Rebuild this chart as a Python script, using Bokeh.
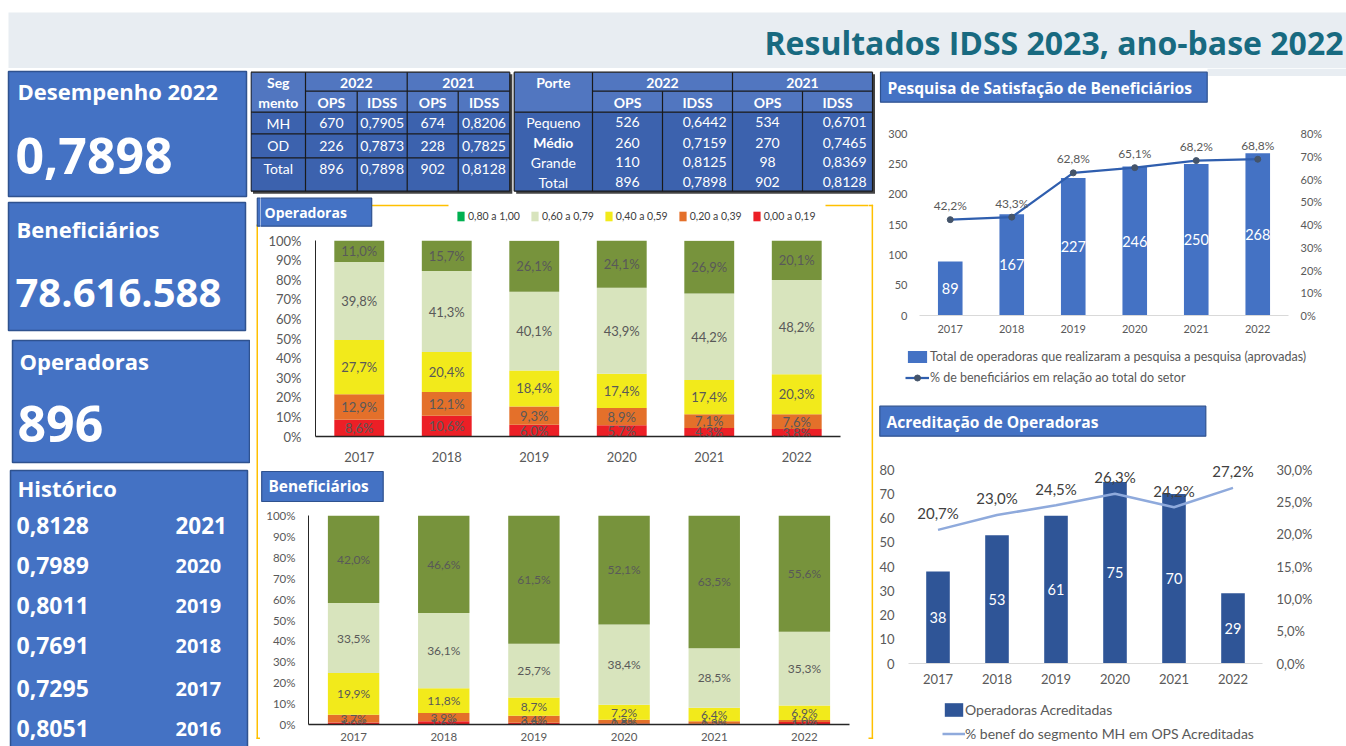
from bokeh.plotting import figure
from bokeh.layouts import column, row
from bokeh.models import (Range1d, FactorRange, LinearAxis, FixedTicker, PrintfTickFormatter,
                          ColumnDataSource, LabelSet, Legend, LegendItem)
from bokeh.core.properties import value
from bokeh.embed import file_html
from bokeh.resources import INLINE

# ---------------- data ----------------
titulo = "Resultados IDSS 2023, ano-base 2022"
years = ["2017", "2018", "2019", "2020", "2021", "2022"]

kpi_titles = ["Desempenho 2022", "Beneficiários", "Operadoras"]
desempenho = 0.7898
beneficiarios = 78616588
operadoras = 896
hist_years = [2021, 2020, 2019, 2018, 2017, 2016]
hist_idss = [0.8128, 0.7989, 0.8011, 0.7691, 0.7295, 0.8051]

seg_rows = ["MH", "OD", "Total"]
seg_ops_22 = [670, 226, 896]
seg_idss_22 = [0.7905, 0.7873, 0.7898]
seg_ops_21 = [674, 228, 902]
seg_idss_21 = [0.8206, 0.7825, 0.8128]

porte_rows = ["Pequeno", "Médio", "Grande", "Total"]
porte_ops_22 = [526, 260, 110, 896]
porte_idss_22 = [0.6442, 0.7159, 0.8125, 0.7898]
porte_ops_21 = [534, 270, 98, 902]
porte_idss_21 = [0.6701, 0.7465, 0.8369, 0.8128]

band_labels = ["0,80 a 1,00", "0,60 a 0,79", "0,40 a 0,59", "0,20 a 0,39", "0,00 a 0,19"]
# Operadoras: share of operators per IDSS band (%), bottom -> top
ops_b019 = [8.6, 10.6, 6.0, 5.7, 4.3, 3.8]
ops_b039 = [12.9, 12.1, 9.3, 8.9, 7.1, 7.6]
ops_b059 = [27.7, 20.4, 18.4, 17.4, 17.4, 20.3]
ops_b079 = [39.8, 41.3, 40.1, 43.9, 44.2, 48.2]
ops_b100 = [11.0, 15.7, 26.1, 24.1, 26.9, 20.1]
# Beneficiarios: share per IDSS band (%), bottom -> top
ben_b019 = [1.0, 1.6, 0.8, 0.5, 0.3, 1.2]
ben_b039 = [3.7, 3.9, 3.4, 1.8, 1.3, 1.0]
ben_b059 = [19.9, 11.8, 8.7, 7.2, 6.4, 6.9]
ben_b079 = [33.5, 36.1, 25.7, 38.4, 28.5, 35.3]
ben_b100 = [42.0, 46.6, 61.5, 52.1, 63.5, 55.6]

pesq_ops = [89, 167, 227, 246, 250, 268]
pesq_pct = [42.2, 43.3, 62.8, 65.1, 68.2, 68.8]
pesq_bar_label = "Total de operadoras que realizaram a pesquisa a pesquisa (aprovadas)"
pesq_line_label = "% de beneficiários em relação ao total do setor"

acr_ops = [38, 53, 61, 75, 70, 29]
acr_pct = [20.7, 23.0, 24.5, 26.3, 24.2, 27.2]
acr_bar_label = "Operadoras Acreditadas"
acr_line_label = "% benef do segmento MH em OPS Acreditadas"

# ---------------- styles ----------------
BAND = "#E8EDF2"
BLUE = "#4472C4"
BLUE_EDGE = "#2F528F"
DARK_BLUE = "#2F5597"
GOLD = "#FFC000"
TXT = "#595959"
C_RED, C_ORG, C_YEL, C_LGR, C_OLV, C_GRN = "#EC1F26", "#E4702A", "#F2EA1B", "#D8E4BD", "#77933C", "#00B050"
HDR_FILL = "#5176C0"
BODY_FILL = "#3C62AE"
LINE = "#1A1A1A"
OFF = -99999  # off-canvas position for legend-only proxy glyphs


def fmt_pct(v):
    return f"{v:.1f}".replace(".", ",") + "%"


def fmt_dec(v):
    return f"{v:.4f}".replace(".", ",")


def make_fig(w, h, xr, yr, bl=0, br=0, bt=0, bb=0, axes=True):
    kw = {} if axes else dict(x_axis_location=None, y_axis_location=None)
    p = figure(width=w, height=h, x_range=xr, y_range=yr, output_backend="svg",
               toolbar_location=None, min_border_left=bl, min_border_right=br,
               min_border_top=bt, min_border_bottom=bb, **kw)
    p.outline_line_color = None
    p.grid.visible = False
    p.background_fill_color = "white"
    p.border_fill_color = "white"
    try:
        p.frame_align = False
    except Exception:
        pass
    return p


def deco_fig(x0, y0, w, h):
    # page-pixel coordinate figure (y downwards), frame = whole canvas
    return make_fig(w, h, Range1d(x0, x0 + w), Range1d(y0 + h, y0), axes=False)


def txt(p, xs, ys, texts, size, color="white", font="Open Sans", bold=True, align="left"):
    p.text(x=xs, y=ys, text=texts, text_font=value(font), text_font_size=size,
           text_font_style="bold" if bold else "normal", text_color=color,
           text_align=align, text_baseline="middle")


def style_axis(ax, size, standoff, line_color=None, lw=1.0):
    ax.major_tick_line_color = None
    ax.minor_tick_line_color = None
    ax.major_tick_out = 0
    ax.major_tick_in = 0
    ax.major_label_text_font = "Lato"
    ax.major_label_text_font_size = size
    ax.major_label_text_color = TXT
    ax.major_label_standoff = standoff
    ax.axis_line_color = line_color
    ax.axis_line_width = lw


def proxy_area(p, color):
    return p.quad(left=[OFF], right=[OFF + 1], top=[OFF], bottom=[OFF + 1], fill_color=color, line_color=None)


GOLD_SEGS = [  # (left, right, top, bottom) in page px
    (371, 448, 204.3, 205.8), (825, 872.6, 204.3, 205.8),
    (256.0, 257.5, 224, 738.5), (871.1, 872.6, 204.3, 738.5),
    (256.0, 262, 737, 738.5), (866, 872.6, 737, 738.5)]


def gold(p):
    p.quad(left=[s[0] for s in GOLD_SEGS], right=[s[1] for s in GOLD_SEGS],
           top=[s[2] for s in GOLD_SEGS], bottom=[s[3] for s in GOLD_SEGS],
           fill_color=GOLD, line_color=None)


def header_box(p, l, r, t, b):
    p.quad(left=[l], right=[r], top=[t], bottom=[b], fill_color=BLUE, line_color=BLUE_EDGE, line_width=1.2)


# ---------------- title band ----------------
pt = deco_fig(0, 0, 1346, 68)
pt.quad(left=[8], right=[1346], top=[12], bottom=[68], fill_color=BAND, line_color=None)
txt(pt, [1343], [42], [titulo], "32px", color="#186A80", align="right")

# ---------------- left KPI column ----------------
pl = deco_fig(0, 68, 250, 678)
pl.quad(left=[8, 8, 12, 10], right=[246, 245, 249, 247], top=[71, 202, 340, 470],
        bottom=[196, 330, 462, 748], fill_color=BLUE, line_color=BLUE_EDGE, line_width=1.5)
txt(pl, [17, 16, 19], [90, 228, 360], kpi_titles, "22px")
txt(pl, [15], [155], [fmt_dec(desempenho)], "50px")
txt(pl, [15], [292], [f"{beneficiarios:,}".replace(",", ".")], "40px")
txt(pl, [17], [423], [str(operadoras)], "50px")
txt(pl, [17], [487], ["Histórico"], "22px")
hist_y = [525, 565, 605, 645, 688, 728]
txt(pl, [16] * 6, hist_y, [fmt_dec(v) for v in hist_idss], "23px")
txt(pl, [175], hist_y[:1], [str(hist_years[0])], "22.5px")
txt(pl, [175] * 5, hist_y[1:], [str(y) for y in hist_years[1:]], "20px")

# ---------------- tables ----------------
ptab = deco_fig(250, 68, 626, 128)


def table_frame(p, xs, ys, body_lines):
    p.quad(left=[xs[0] + 2], right=[xs[-1] + 2.5], top=[ys[0] + 2], bottom=[ys[-1] + 2.5],
           fill_color="#444444", line_color=None)
    p.quad(left=[xs[0]], right=[xs[-1]], top=[ys[0]], bottom=[ys[2]], fill_color=HDR_FILL, line_color=None)
    p.quad(left=[xs[0]], right=[xs[-1]], top=[ys[2]], bottom=[ys[-1]], fill_color=BODY_FILL, line_color=None)
    x0s, y0s, x1s, y1s = [], [], [], []
    for i in (0, 1, 3, 5):
        x0s.append(xs[i]); x1s.append(xs[i]); y0s.append(ys[0]); y1s.append(ys[-1])
    for i in (2, 4):
        x0s.append(xs[i]); x1s.append(xs[i]); y0s.append(ys[1]); y1s.append(ys[-1])
    x0s.append(xs[1]); x1s.append(xs[-1]); y0s.append(ys[1]); y1s.append(ys[1])
    hl = [0, 2, len(ys) - 1] + (list(range(3, len(ys) - 1)) if body_lines else [])
    for j in hl:
        x0s.append(xs[0]); x1s.append(xs[-1]); y0s.append(ys[j]); y1s.append(ys[j])
    p.segment(x0=x0s, y0=y0s, x1=x1s, y1=y1s, line_color=LINE, line_width=1.2)


t1x = [250.5, 305, 356.7, 406.7, 457.7, 509.3]
t1y = [71.7, 90.7, 111.7, 133.3, 157.3, 190.7]
table_frame(ptab, t1x, t1y, True)
c1 = [(t1x[i] + t1x[i + 1]) / 2 for i in range(5)]
txt(ptab, [c1[0], c1[0]], [82, 101.5], ["Seg", "mento"], "14px", font="Lato", align="center")
txt(ptab, [(t1x[1] + t1x[3]) / 2, (t1x[3] + t1x[5]) / 2], [82, 82], ["2022", "2021"], "14px", font="Lato", align="center")
txt(ptab, c1[1:], [101.5] * 4, ["OPS", "IDSS", "OPS", "IDSS"], "14px", font="Lato", align="center")
t1_rows_y = [122.5, 145, 168]
txt(ptab, [c1[0]] * 3, t1_rows_y, seg_rows, "14px", font="Lato", bold=False, align="center")
txt(ptab, [c1[1]] * 3, t1_rows_y, [str(v) for v in seg_ops_22], "14px", font="Lato", bold=False, align="center")
txt(ptab, [c1[2]] * 3, t1_rows_y, [fmt_dec(v) for v in seg_idss_22], "14px", font="Lato", bold=False, align="center")
txt(ptab, [c1[3]] * 3, t1_rows_y, [str(v) for v in seg_ops_21], "14px", font="Lato", bold=False, align="center")
txt(ptab, [c1[4]] * 3, t1_rows_y, [fmt_dec(v) for v in seg_idss_21], "14px", font="Lato", bold=False, align="center")

t2x = [513.7, 592, 662, 732, 802, 872]
t2y = [71.7, 90.7, 111.7, 132.7, 151.7, 171.7, 190.7]
table_frame(ptab, t2x, t2y, False)
c2 = [(t2x[i] + t2x[i + 1]) / 2 for i in range(5)]
txt(ptab, [c2[0]], [82], ["Porte"], "14px", font="Lato", align="center")
txt(ptab, [(t2x[1] + t2x[3]) / 2, (t2x[3] + t2x[5]) / 2], [82, 82], ["2022", "2021"], "14px", font="Lato", align="center")
txt(ptab, c2[1:], [101.5] * 4, ["OPS", "IDSS", "OPS", "IDSS"], "14px", font="Lato", align="center")
t2_rows_y = [121.7, 142.3, 161.7, 181.5]
for name, yy in zip(porte_rows, t2_rows_y):
    txt(ptab, [c2[0]], [yy], [name], "14px", font="Lato", bold=(name == "Médio"), align="center")
txt(ptab, [c2[1]] * 4, t2_rows_y, [str(v) for v in porte_ops_22], "14px", font="Lato", bold=False, align="center")
txt(ptab, [t2x[3] - 6] * 4, t2_rows_y, [fmt_dec(v) for v in porte_idss_22], "14px", font="Lato", bold=False, align="right")
txt(ptab, [c2[3]] * 4, t2_rows_y, [str(v) for v in porte_ops_21], "14px", font="Lato", bold=False, align="center")
txt(ptab, [t2x[5] - 6] * 4, t2_rows_y, [fmt_dec(v) for v in porte_idss_21], "14px", font="Lato", bold=False, align="right")

# ---------------- gold frame strips + headers of the middle charts ----------------
strip_l = deco_fig(250, 196, 10, 550)
gold(strip_l)
header_box(strip_l, 256.8, 371.2, 197.7, 225.7)
strip_r = deco_fig(868, 196, 8, 550)
gold(strip_r)

op_head = deco_fig(260, 196, 608, 36)
gold(op_head)
header_box(op_head, 256.8, 371.2, 197.7, 225.7)
txt(op_head, [264], [212], ["Operadoras"], "14px")
leg_colors = [C_GRN, C_LGR, C_YEL, C_ORG, C_RED]
proxies = [proxy_area(op_head, c) for c in leg_colors]
op_head.add_layout(Legend(items=[LegendItem(label=l, renderers=[r]) for l, r in zip(band_labels, proxies)],
                          orientation="horizontal", location=(196, 10), glyph_width=9, glyph_height=12,
                          label_height=12, label_width=10, label_standoff=3, spacing=10, padding=0, margin=0,
                          background_fill_alpha=0, border_line_color=None, label_text_font="Lato",
                          label_text_font_size="10.5px", label_text_color="#404040"))

ben_head = deco_fig(260, 470, 608, 36)
gold(ben_head)
header_box(ben_head, 261.2, 382.7, 471, 501)
txt(ben_head, [268], [486], ["Beneficiários"], "15.4px")


# ---------------- stacked charts ----------------
def stacked_chart(h, bl, br, bt, bb, series, label_size, tick_size, y_std, x_std):
    p = make_fig(608, h, FactorRange(factors=years), Range1d(0, 100), bl=bl, br=br, bt=bt, bb=bb)
    names = ["s019", "s039", "s059", "s079", "s100"]
    src = ColumnDataSource(dict(year=years, **{n: s for n, s in zip(names, series)}))
    p.vbar_stack(names, x="year", width=0.57, source=src,
                 fill_color=[C_RED, C_ORG, C_YEL, C_LGR, C_OLV], line_color=None)
    xs, ys, ts = [], [], []
    for i, yv in enumerate(years):
        cum = 0.0
        for s in series:
            xs.append(yv); ys.append(cum + s[i] / 2); ts.append(fmt_pct(s[i])); cum += s[i]
    lsrc = ColumnDataSource(dict(x=xs, y=ys, t=ts))
    p.add_layout(LabelSet(x="x", y="y", text="t", source=lsrc, text_font=value("Lato"),
                          text_font_size=label_size, text_color=TXT, text_align="center",
                          text_baseline="middle"))
    p.yaxis.ticker = FixedTicker(ticks=list(range(0, 101, 10)))
    p.yaxis.formatter = PrintfTickFormatter(format="%d%%")
    style_axis(p.yaxis, tick_size, y_std, "#262626", 1.0)
    style_axis(p.xaxis, tick_size, x_std, "#262626", 1.5)
    return p


op_chart = stacked_chart(238, 55, 28, 8, 34, [ops_b019, ops_b039, ops_b059, ops_b079, ops_b100],
                         "13px", "13px", 14, 15)
ben_chart = stacked_chart(240, 48, 19, 9, 22, [ben_b019, ben_b039, ben_b059, ben_b079, ben_b100],
                          "12px", "11.5px", 13, 8)


# ---------------- combo charts ----------------
def combo_chart(h, bl, br, bt, bb, ytop, yticks, rtop, rticks, bars, pcts, bar_color, tick_size,
                y_std, r_std, x_std):
    p = make_fig(470, h, FactorRange(factors=years), Range1d(0, ytop), bl=bl, br=br, bt=bt, bb=bb)
    p.extra_y_ranges = {"pct": Range1d(0, rtop)}
    p.yaxis.ticker = FixedTicker(ticks=yticks)
    style_axis(p.yaxis, tick_size, y_std, None)
    rax = LinearAxis(y_range_name="pct", ticker=FixedTicker(ticks=rticks))
    style_axis(rax, tick_size, r_std, None)
    p.add_layout(rax, "right")
    style_axis(p.xaxis, tick_size, x_std, "#D9D9D9", 1.0)
    src = ColumnDataSource(dict(year=years, v=bars, mid=[b / 2 for b in bars], pct=pcts,
                                vt=[str(b) for b in bars], pt=[fmt_pct(c) for c in pcts]))
    p.vbar(x="year", top="v", width=0.4, source=src, fill_color=bar_color, line_color=None)
    p.add_layout(LabelSet(x="year", y="mid", text="vt", source=src, text_font=value("Lato"),
                          text_font_size="14.5px", text_color="white", text_align="center",
                          text_baseline="middle"))
    return p, src, rax


# Pesquisa de satisfacao
pesq_head = deco_fig(876, 68, 470, 50)
pesq_head.quad(left=[1207], right=[1346], top=[68], bottom=[75.5], fill_color=BAND, line_color=None)
header_box(pesq_head, 880, 1206.7, 71.7, 101.7)
txt(pesq_head, [887], [87], ["Pesquisa de Satisfação de Beneficiários"], "15.6px")

pesq_top = 300 * (315 - 118) / (315 - 133.3)
pesq_chart, ps_src, ps_rax = combo_chart(222, 43, 58, 0, 25, pesq_top, list(range(0, 301, 50)),
                                         80 * pesq_top / 300, list(range(0, 81, 10)), pesq_ops, pesq_pct,
                                         BLUE, "11px", 12, 12, 9)
ps_rax.formatter = PrintfTickFormatter(format="%d%%")
PS_LINE, PS_MARK = "#2F5EAE", "#44546A"
pesq_chart.line(x="year", y="pct", source=ps_src, y_range_name="pct", line_color=PS_LINE, line_width=2.25)
pesq_chart.scatter(x="year", y="pct", source=ps_src, y_range_name="pct", size=6,
                   fill_color=PS_MARK, line_color=PS_MARK)
pesq_chart.add_layout(LabelSet(x="year", y="pct", text="pt", source=ps_src, y_range_name="pct", y_offset=14,
                               text_font=value("Lato"), text_font_size="12px", text_color=TXT,
                               text_align="center", text_baseline="middle"))

pesq_leg = deco_fig(876, 340, 470, 58)
d_bar = proxy_area(pesq_leg, BLUE)
d_line = pesq_leg.line(x=[OFF, OFF + 1], y=[OFF, OFF], line_color=PS_LINE, line_width=2.25)
d_mark = pesq_leg.scatter(x=[OFF], y=[OFF], size=6, fill_color=PS_MARK, line_color=PS_MARK)
pesq_leg.add_layout(Legend(items=[LegendItem(label=pesq_bar_label, renderers=[d_bar]),
                                  LegendItem(label=pesq_line_label, renderers=[d_line, d_mark])],
                           orientation="vertical", location=(29, 13), glyph_width=24, glyph_height=15,
                           label_height=15, label_standoff=1, spacing=6, padding=0, margin=0,
                           background_fill_alpha=0, border_line_color=None, label_text_font="Lato",
                           label_text_font_size="12.5px", label_text_color=TXT))

# Acreditacao
acr_head = deco_fig(876, 398, 470, 52)
header_box(acr_head, 879.3, 1205.3, 405.7, 435.7)
txt(acr_head, [886], [421], ["Acreditação de Operadoras"], "15.6px")

acr_top = 80 * (663 - 450) / (663 - 469.3)
acr_chart, ac_src, ac_rax = combo_chart(240, 31, 84, 0, 27, acr_top, list(range(0, 81, 10)),
                                        30 * acr_top / 80, list(range(0, 31, 5)), acr_ops, acr_pct,
                                        DARK_BLUE, "13px", 14, 14, 10)
ac_rax.major_label_overrides = {t: f"{t},0%" for t in range(0, 31, 5)}
AC_LINE = "#8FAADC"
acr_chart.line(x="year", y="pct", source=ac_src, y_range_name="pct", line_color=AC_LINE, line_width=2.5)
acr_chart.add_layout(LabelSet(x="year", y="pct", text="pt", source=ac_src, y_range_name="pct", y_offset=16.5,
                              text_font=value("Lato"), text_font_size="15px", text_color="#404040",
                              text_align="center", text_baseline="middle"))

acr_leg = deco_fig(876, 690, 470, 56)
a_bar = proxy_area(acr_leg, DARK_BLUE)
a_line = acr_leg.line(x=[OFF, OFF + 1], y=[OFF, OFF], line_color=AC_LINE, line_width=2.5)
acr_leg.add_layout(Legend(items=[LegendItem(label=acr_bar_label, renderers=[a_bar]),
                                 LegendItem(label=acr_line_label, renderers=[a_line])],
                          orientation="vertical", location=(66, 4), glyph_width=23, glyph_height=17,
                          label_height=17, label_standoff=0, spacing=7, padding=0, margin=0,
                          background_fill_alpha=0, border_line_color=None, label_text_font="Lato",
                          label_text_font_size="14px", label_text_color=TXT))

# ---------------- layout ----------------
mid_lower = row(strip_l, column(op_head, op_chart, ben_head, ben_chart), strip_r)
mid = column(ptab, mid_lower)
right = column(pesq_head, pesq_chart, pesq_leg, acr_head, acr_chart, acr_leg)
layout = column(pt, row(pl, mid, right))
open("out.html", "w", encoding="utf-8").write(file_html(layout, INLINE, "Resultados IDSS 2023"))
